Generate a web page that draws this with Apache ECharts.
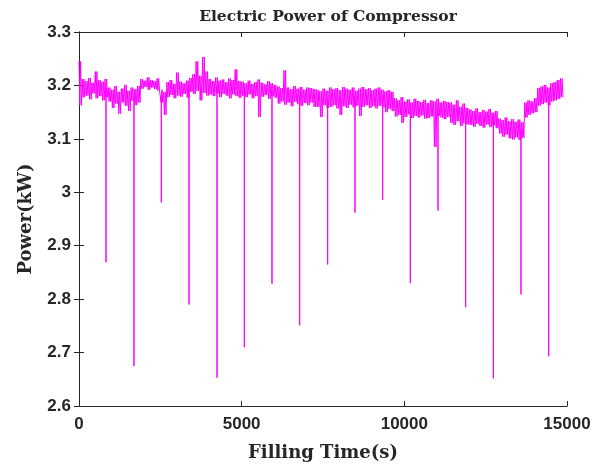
<!DOCTYPE html>
<html>
<head>
<meta charset="utf-8">
<script src="https://cdn.jsdelivr.net/npm/echarts@6/dist/echarts.min.js"></script>
<style>
  html, body { margin: 0; padding: 0; background: #fff; }
  #chart { width: 597px; height: 469px; }
</style>
</head>
<body>
<div id="chart"></div>
<script>
// band of the signal, read every 100 s from t = 0 (upper and lower edge)
const bandStep = 100;
const bandHigh = [
  3.245, 3.212, 3.208, 3.214, 3.205, 3.226, 3.210, 3.207, 3.212,
  3.196, 3.192, 3.199, 3.188, 3.194, 3.201, 3.190, 3.196, 3.193, 3.199,
  3.212, 3.209, 3.215, 3.210, 3.208, 3.213,
  3.192, 3.188,
  3.206, 3.210, 3.203, 3.224, 3.207, 3.204, 3.209,
  3.214, 3.221, 3.245, 3.218, 3.253, 3.226,
  3.212, 3.208, 3.215, 3.209, 3.211, 3.206, 3.213, 3.210, 3.230, 3.208,
  3.207, 3.204, 3.209, 3.203, 3.206, 3.211, 3.205, 3.202, 3.208, 3.204, 3.201,
  3.198, 3.195, 3.228, 3.196, 3.193, 3.199, 3.194, 3.197, 3.192, 3.196, 3.195, 3.193,
  3.192, 3.189, 3.194, 3.190,
  3.196, 3.193, 3.195, 3.191, 3.197, 3.194, 3.192, 3.196, 3.190, 3.194,
  3.197, 3.193, 3.195, 3.191, 3.194, 3.196, 3.192, 3.189, 3.191, 3.188,
  3.176, 3.172, 3.178, 3.170, 3.174, 3.168, 3.175, 3.171, 3.169, 3.173,
  3.167, 3.172, 3.170, 3.175, 3.168, 3.171, 3.169,
  3.168, 3.164, 3.172, 3.160, 3.166, 3.158,
  3.155, 3.152, 3.157, 3.150, 3.154, 3.151, 3.156, 3.149, 3.152,
  3.138, 3.135, 3.140, 3.133, 3.137, 3.132, 3.136, 3.131,
  3.168, 3.172, 3.170, 3.176,
  3.195, 3.198, 3.201, 3.196, 3.204, 3.206, 3.210, 3.213
];
const bandLow = [
  3.163, 3.178, 3.181, 3.174, 3.185, 3.176, 3.180, 3.172, 3.178,
  3.170, 3.158, 3.166, 3.147, 3.168, 3.162, 3.152, 3.171, 3.163, 3.168,
  3.194, 3.197, 3.192, 3.196, 3.193, 3.190,
  3.168, 3.145,
  3.178, 3.182, 3.176, 3.181, 3.179, 3.184, 3.177,
  3.188, 3.184, 3.190, 3.172, 3.186, 3.181,
  3.183, 3.180, 3.185, 3.178, 3.184, 3.181, 3.176, 3.183, 3.180, 3.177,
  3.181, 3.178, 3.183, 3.176, 3.180, 3.141, 3.179, 3.182, 3.175, 3.180, 3.177,
  3.166, 3.170, 3.164, 3.168, 3.161, 3.169, 3.165, 3.162, 3.167, 3.163, 3.168, 3.160,
  3.160, 3.141, 3.163, 3.158,
  3.160, 3.163, 3.157, 3.145, 3.161, 3.158, 3.164, 3.159, 3.162, 3.143,
  3.160, 3.163, 3.158, 3.161, 3.157, 3.162, 3.159, 3.150, 3.156, 3.152,
  3.142, 3.145, 3.130, 3.141, 3.146, 3.139, 3.143, 3.140, 3.144, 3.138,
  3.139, 3.142, 3.085, 3.143, 3.140, 3.137, 3.141,
  3.130, 3.126, 3.133, 3.124, 3.129, 3.127,
  3.126, 3.123, 3.128, 3.124, 3.121, 3.127, 3.122, 3.125, 3.120,
  3.110, 3.104, 3.108, 3.101, 3.099, 3.103, 3.098, 3.102,
  3.140, 3.145, 3.148, 3.150,
  3.162, 3.165, 3.168, 3.163, 3.170, 3.172, 3.175, 3.178
];

// deep drops of the compressor power
const dipTimes  = [830, 1690, 2530, 3381, 4242, 5082, 5932, 6783, 7643, 8484, 9334, 10184, 11035, 11885, 12736, 13586, 14437];
const dipValues = [2.869, 2.675, 2.981, 2.790, 2.653, 2.710, 2.829, 2.751, 2.865, 2.962, 2.986, 2.830, 2.966, 2.785, 2.652, 2.809, 2.693];

const xTicks = [0, 5000, 10000, 15000];

// each 100 s slot is drawn as two up/down strokes between its edges
let points = [];
bandHigh.forEach(function (v, i) {
  const t = i * bandStep;
  points.push([t, v]);
  points.push([t + 25, bandLow[i]]);
  points.push([t + 50, v]);
  points.push([t + 75, bandLow[i]]);
});
dipTimes.forEach(function (t, i) {
  const k = Math.min(bandHigh.length - 1, Math.round(t / bandStep));
  const base = (bandHigh[k] + bandLow[k]) / 2;
  points.push([t - 1, base]);
  points.push([t, dipValues[i]]);
  points.push([t + 1, base]);
});
points.sort(function (a, b) { return a[0] - b[0]; });

const chart = echarts.init(document.getElementById('chart'));
const axisColor = '#262626';
const tickFont = {fontFamily: 'Liberation Sans, Arial, sans-serif', fontWeight: 'bold', fontSize: 17, color: axisColor};
const nameFont = {fontFamily: 'DejaVu Serif, serif', fontWeight: 'bold', fontSize: 18, color: axisColor};

const option = {
  animation: false,
  backgroundColor: '#fff',
  title: {
    text: 'Electric Power of Compressor',
    left: 323, top: 4, textAlign: 'center',
    textStyle: {fontFamily: 'DejaVu Serif, serif', fontWeight: 'bold', fontSize: 15.5, color: axisColor}
  },
  grid: {left: 79, right: 30, top: 32, bottom: 63},
  xAxis: [{
    type: 'value', min: 0, max: 15000, interval: 5000,
    name: 'Filling Time(s)', nameLocation: 'middle', nameGap: 38, nameTextStyle: nameFont,
    axisLine: {show: true, lineStyle: {color: axisColor, width: 1}},
    axisTick: {show: true, inside: true, length: 5, lineStyle: {color: axisColor}},
    axisLabel: Object.assign({margin: 10, formatter: function (v) { return xTicks.indexOf(v) >= 0 ? String(v) : ''; }}, tickFont),
    splitLine: {show: false}
  }, {
    type: 'value', min: 0, max: 15000, interval: 5000, position: 'top',
    axisLine: {show: true, lineStyle: {color: axisColor, width: 1}},
    axisTick: {show: true, inside: true, length: 5, lineStyle: {color: axisColor}},
    axisLabel: {show: false}, splitLine: {show: false}
  }],
  yAxis: [{
    type: 'value', min: 2.6, max: 3.3, interval: 0.1,
    name: 'Power(kW)', nameLocation: 'middle', nameGap: 44, nameTextStyle: nameFont,
    axisLine: {show: true, lineStyle: {color: axisColor, width: 1}},
    axisTick: {show: true, inside: true, length: 5, lineStyle: {color: axisColor}},
    axisLabel: Object.assign({margin: 8, formatter: function (v) { return String(+v.toFixed(1)); }}, tickFont),
    splitLine: {show: false}
  }, {
    type: 'value', min: 2.6, max: 3.3, interval: 0.1, position: 'right',
    axisLine: {show: true, lineStyle: {color: axisColor, width: 1}},
    axisTick: {show: true, inside: true, length: 5, lineStyle: {color: axisColor}},
    axisLabel: {show: false}, splitLine: {show: false}
  }],
  series: [{
    type: 'line',
    data: points,
    showSymbol: false,
    symbol: 'none',
    lineStyle: {color: '#ff00ff', width: 1},
    sampling: null
  }]
};
chart.setOption(option);
</script>
</body>
</html>
